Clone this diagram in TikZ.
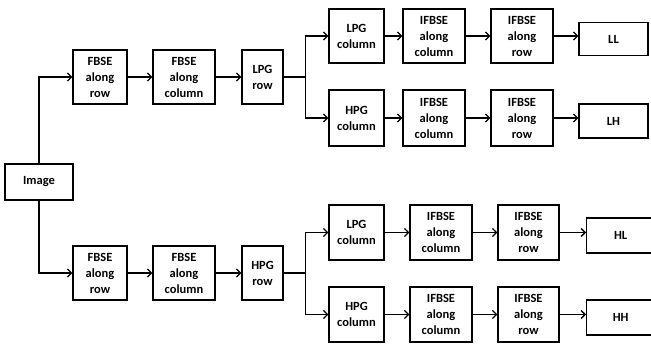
\documentclass[tikz,border=0pt]{standalone}
\usepackage{fontspec}
\setmainfont{Carlito}
\usetikzlibrary{arrows.meta}
\begin{document}
\begin{tikzpicture}[x=1pt,y=1pt,
  blk/.style={draw, line width=1.3pt, inner sep=0pt, align=center, font=\bfseries\fontsize{12.5}{16}\selectfont},
  conn/.style={line width=1.3pt, -{Straight Barb[length=4pt,width=8pt,line width=1.3pt]}},
  ln/.style={line width=1.3pt}]
\useasboundingbox (0,0) rectangle (651,-343);
\fill[white] (0,0) rectangle (651,-343);
% Image
\node[blk, minimum width=68pt, minimum height=36pt] (img) at (39,-182) {Image};
% upper half main row
\node[blk, minimum width=54pt, minimum height=54pt] (t1) at (100,-77) {FBSE\\along\\row};
\node[blk, minimum width=62pt, minimum height=54pt] (t2) at (184,-77) {FBSE\\along\\column};
\node[blk, minimum width=41pt, minimum height=54pt] (t3) at (262.5,-77) {LPG\\row};
% upper-upper
\node[blk, minimum width=55pt, minimum height=54pt] (a1) at (356.5,-36) {LPG\\column};
\node[blk, minimum width=62pt, minimum height=54pt] (a2) at (434,-36) {IFBSE\\along\\column};
\node[blk, minimum width=62pt, minimum height=54pt] (a3) at (522,-36) {IFBSE\\along\\row};
\node[blk, minimum width=69pt, minimum height=33pt] (ll) at (613.5,-39) {LL};
% upper-lower
\node[blk, minimum width=55pt, minimum height=56pt] (b1) at (356.5,-118) {HPG\\column};
\node[blk, minimum width=62pt, minimum height=56pt] (b2) at (434,-118) {IFBSE\\along\\column};
\node[blk, minimum width=62pt, minimum height=56pt] (b3) at (522,-118) {IFBSE\\along\\row};
\node[blk, minimum width=69pt, minimum height=34pt] (lh) at (613.5,-121) {LH};
% lower half main row
\node[blk, minimum width=54pt, minimum height=54pt] (c1) at (100,-273) {FBSE\\along\\row};
\node[blk, minimum width=62pt, minimum height=54pt] (c2) at (184,-273) {FBSE\\along\\column};
\node[blk, minimum width=41pt, minimum height=54pt] (c3) at (262.5,-273) {HPG\\row};
% lower-upper
\node[blk, minimum width=55pt, minimum height=55pt] (d1) at (356.5,-232.5) {LPG\\column};
\node[blk, minimum width=62pt, minimum height=55pt] (d2) at (441,-232.5) {IFBSE\\along\\column};
\node[blk, minimum width=61pt, minimum height=55pt] (d3) at (528.5,-232.5) {IFBSE\\along\\row};
\node[blk, minimum width=80pt, minimum height=35pt, anchor=west] (hl) at (586,-235.5) {\hspace*{-12pt}HL};
% lower-lower
\node[blk, minimum width=55pt, minimum height=55pt] (e1) at (356.5,-314.5) {HPG\\column};
\node[blk, minimum width=62pt, minimum height=55pt] (e2) at (441,-314.5) {IFBSE\\along\\column};
\node[blk, minimum width=61pt, minimum height=55pt] (e3) at (528.5,-314.5) {IFBSE\\along\\row};
\node[blk, minimum width=80pt, minimum height=35pt, anchor=west] (hh) at (586,-317.5) {\hspace*{-12pt}HH};
% coordinates
\coordinate (jt) at (305.5,-77);
\coordinate (jb) at (305.5,-273);
% connectors from image
\draw[conn] (img.north) |- (t1.west);
\draw[conn] (img.south) |- (c1.west);
\draw[conn] (t1) -- (t2);
\draw[conn] (t2) -- (t3);
\draw[conn] (c1) -- (c2);
\draw[conn] (c2) -- (c3);
% branches
\draw[ln] (t3.east) -- (jt);
\draw[conn] (jt) |- (a1.west);
\draw[conn] (jt) |- (b1.west);
\draw[ln] (c3.east) -- (jb);
\draw[conn] (jb) |- (d1.west);
\draw[conn] (jb) |- (e1.west);
% chains
\draw[conn] (a1) -- (a2);
\draw[conn] (a2) -- (a3);
\draw[conn] (a3.east) -- (a3.east -| ll.west);
\draw[conn] (b1) -- (b2);
\draw[conn] (b2) -- (b3);
\draw[conn] (b3.east) -- (b3.east -| lh.west);
\draw[conn] (d1) -- (d2);
\draw[conn] (d2) -- (d3);
\draw[conn] (d3.east) -- (d3.east -| hl.west);
\draw[conn] (e1) -- (e2);
\draw[conn] (e2) -- (e3);
\draw[conn] (e3.east) -- (e3.east -| hh.west);
\end{tikzpicture}
\end{document}
